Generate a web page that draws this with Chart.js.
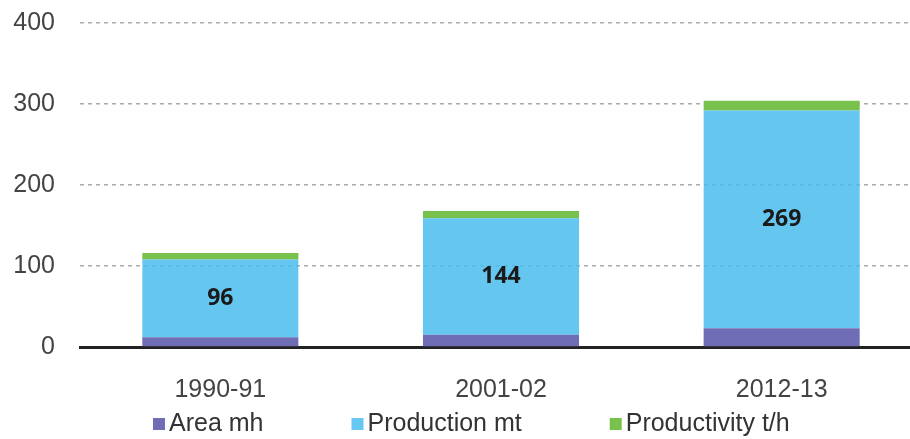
<!DOCTYPE html>
<html>
<head>
<meta charset="utf-8">
<script src="https://cdn.jsdelivr.net/npm/chart.js@4"></script>
<style>
  html, body { margin: 0; padding: 0; background: #fff; overflow: hidden; }
  #wrap { width: 922px; height: 439px; }
</style>
</head>
<body>
<div id="wrap"><canvas id="myChart" width="922" height="439"></canvas></div>
<script>
const years = ['1990-91', '2001-02', '2012-13'];
const area = [12, 15, 23];
const production = [96, 144, 269];
const productivity = [8, 9, 12];
const yTicks = [0, 100, 200, 300, 400];

const labelFont = '25px "Liberation Sans", Arial, sans-serif';

// numbers in the middle of the production segment
const valueLabels = {
  id: 'valueLabels',
  afterDatasetsDraw(chart) {
    const ctx = chart.ctx;
    const meta = chart.getDatasetMeta(1);
    ctx.save();
    ctx.font = 'bold 23px "Open Sans", sans-serif';
    ctx.fillStyle = '#1a1a1a';
    ctx.textAlign = 'center';
    ctx.textBaseline = 'middle';
    meta.data.forEach((bar, i) => {
      ctx.fillText(production[i], bar.x, (bar.y + bar.base) / 2);
    });
    ctx.restore();
  }
};

// legend row under the axis labels
const legendRow = {
  id: 'legendRow',
  afterDraw(chart) {
    const ctx = chart.ctx;
    ctx.save();
    ctx.font = labelFont;
    ctx.textBaseline = 'alphabetic';
    let x = 153;
    chart.data.datasets.forEach(ds => {
      ctx.fillStyle = ds.legendColor;
      ctx.fillRect(x, 418, 12, 12);
      ctx.fillStyle = '#333';
      ctx.fillText(ds.label, x + 16, 431);
      x += 16 + ctx.measureText(ds.label).width + 88;
    });
    ctx.restore();
  }
};

const ctx = document.getElementById('myChart').getContext('2d');
const chart = new Chart(ctx, {
  type: 'bar',
  data: {
    labels: years,
    datasets: [
      { label: 'Area mh', data: area, backgroundColor: '#6e6db5', legendColor: '#6e6db5' },
      { label: 'Production mt', data: production, backgroundColor: 'rgba(74,188,237,0.85)', legendColor: '#66c7f1' },
      { label: 'Productivity t/h', data: productivity, backgroundColor: '#78c14c', legendColor: '#78c14c' }
    ]
  },
  options: {
    responsive: false,
    animation: false,
    layout: { padding: { left: 13, top: 23, right: 0, bottom: 32 } },
    datasets: {
      bar: { categoryPercentage: 1, barPercentage: 0.556, borderWidth: 0 }
    },
    plugins: {
      legend: { display: false },
      tooltip: { enabled: false }
    },
    scales: {
      x: {
        stacked: true,
        afterFit(scale) { scale.height = 60; },
        grid: { display: false, drawTicks: false },
        border: { color: '#222', width: 3 },
        ticks: { font: { family: '"Liberation Sans", Arial, sans-serif', size: 25 }, color: '#444', padding: 28 }
      },
      y: {
        stacked: true,
        min: 0,
        max: 400,
        afterBuildTicks(scale) { scale.ticks = yTicks.map(v => ({ value: v })); },
        afterFit(scale) {
          scale.width = 67;
          scale.paddingTop = 0;
          scale.paddingBottom = 0;
        },
        grid: { color: '#aaa', lineWidth: 1.5, drawTicks: false },
        border: { display: false, dash: [4, 4] },
        ticks: { font: { family: '"Liberation Sans", Arial, sans-serif', size: 25 }, color: '#444', padding: 25 }
      }
    }
  },
  plugins: [valueLabels, legendRow]
});
</script>
</body>
</html>
